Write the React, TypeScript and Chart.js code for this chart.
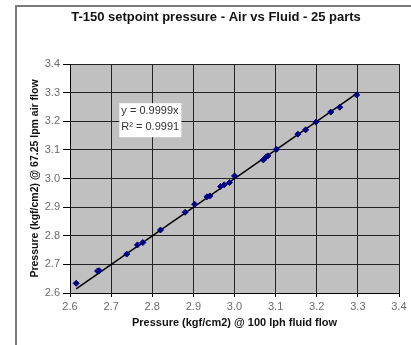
import React, { useEffect, useRef } from "react";
import { Chart, registerables } from "chart.js";

Chart.register(...registerables);

const TITLE = "T-150 setpoint pressure - Air vs Fluid - 25 parts";
const X_TITLE = "Pressure (kgf/cm2) @ 100 lph fluid flow";
const Y_TITLE = "Pressure (kgf/cm2) @ 67.25 lpm air flow";

const fluidPressure = [
  2.615, 2.667, 2.671, 2.738, 2.764, 2.777, 2.82, 2.88, 2.903, 2.933, 2.94, 2.966, 2.975,
  2.988, 3.0, 3.07, 3.076, 3.081, 3.102, 3.154, 3.173, 3.198, 3.234, 3.256, 3.297,
];
const airPressure = [
  2.634, 2.677, 2.678, 2.736, 2.768, 2.776, 2.82, 2.882, 2.91, 2.936, 2.939, 2.972, 2.978,
  2.986, 3.009, 3.065, 3.074, 3.079, 3.102, 3.155, 3.17, 3.197, 3.232, 3.249, 3.292,
];
const SLOPE = 0.9999;
const EQ_LINES = ["y = 0.9999x", "R² = 0.9991"];
const AXIS_MIN = 2.6;
const AXIS_MAX = 3.4;
const AXIS_STEP = 0.1;

const FONT = "'Liberation Sans', Arial, sans-serif";

export default function App() {
  const ref = useRef<HTMLCanvasElement | null>(null);

  useEffect(() => {
    if (!ref.current) return;
    const points = fluidPressure.map((x, i) => ({ x, y: airPressure[i] }));
    const xMin = Math.min(...fluidPressure);
    const xMax = Math.max(...fluidPressure);
    const trend = [
      { x: xMin, y: xMin * SLOPE },
      { x: xMax, y: xMax * SLOPE },
    ];

    const frame = {
      id: "frame",
      beforeDraw(chart: any) {
        const { ctx, chartArea: a, width, height } = chart;
        ctx.save();
        ctx.fillStyle = "#ffffff";
        ctx.fillRect(0, 0, width, height);
        ctx.fillStyle = "#c0c0c0";
        ctx.fillRect(a.left, a.top, a.right - a.left, a.bottom - a.top);
        ctx.strokeStyle = "#7a7a7a";
        ctx.lineWidth = 2;
        ctx.beginPath();
        ctx.moveTo(16, height);
        ctx.lineTo(16, 6);
        ctx.lineTo(width, 6);
        ctx.stroke();
        ctx.fillStyle = "#111111";
        ctx.font = `bold 13px ${FONT}`;
        ctx.textAlign = "center";
        ctx.textBaseline = "middle";
        ctx.fillText(TITLE, 216, 17);
        ctx.restore();
      },
      afterDraw(chart: any) {
        const { ctx, scales } = chart;
        const left = scales.x.getPixelForValue(2.72);
        const top = scales.y.getPixelForValue(3.263);
        ctx.save();
        ctx.font = `11px ${FONT}`;
        const w = 62;
        const h = 34;
        ctx.fillStyle = "#ffffff";
        ctx.fillRect(left, top, w, h);
        ctx.fillStyle = "#333333";
        ctx.textBaseline = "middle";
        ctx.textAlign = "left";
        ctx.fillText(EQ_LINES[0], left + 2, top + 8);
        ctx.fillText(EQ_LINES[1], left + 2, top + 24);
        ctx.restore();
      },
    };

    const chart = new Chart(ref.current, {
      type: "scatter",
      data: {
        datasets: [
          {
            label: "points",
            data: points,
            pointStyle: "rectRot",
            pointRadius: 3,
            backgroundColor: "#000080",
            borderColor: "#000080",
            borderWidth: 1,
            showLine: false,
            order: 1,
          },
          {
            label: "trend",
            data: trend,
            showLine: true,
            pointRadius: 0,
            borderColor: "#000000",
            borderWidth: 1.5,
            order: 2,
          },
        ],
      },
      options: {
        animation: false,
        responsive: false,
        layout: { padding: { left: 0, right: 12, top: 64, bottom: 0 } },
        plugins: {
          legend: { display: false },
          tooltip: { enabled: false },
          title: { display: false },
        },
        scales: {
          x: {
            type: "linear",
            min: AXIS_MIN,
            max: AXIS_MAX,
            afterFit(scale: any) {
              scale.height = 52;
            },
            ticks: {
              stepSize: AXIS_STEP,
              color: "#6a6a6a",
              padding: 3,
              font: { family: FONT, size: 11 },
              callback: (v: any) => Number(v).toFixed(1),
            },
            grid: { color: "#222222", tickLength: 4, tickColor: "#000000" },
            border: { color: "#000000" },
            title: {
              display: true,
              text: X_TITLE,
              color: "#111111",
              font: { family: FONT, size: 11, weight: "bold" },
              padding: { top: 0, bottom: 15.4 },
            },
          },
          y: {
            type: "linear",
            min: AXIS_MIN,
            max: AXIS_MAX,
            afterFit(scale: any) {
              scale.width = 70;
            },
            ticks: {
              stepSize: AXIS_STEP,
              color: "#6a6a6a",
              padding: 3,
              font: { family: FONT, size: 11 },
              callback: (v: any) => Number(v).toFixed(1),
            },
            grid: { color: "#222222", tickLength: 7, tickColor: "#000000" },
            border: { color: "#000000" },
            title: {
              display: true,
              text: Y_TITLE,
              color: "#111111",
              font: { family: FONT, size: 10.5, weight: "bold" },
              padding: { top: 28.5, bottom: 0 },
            },
          },
        },
      },
      plugins: [frame],
    });
    return () => chart.destroy();
  }, []);

  return (
    <div style={{ position: "absolute", left: 0, top: 0, width: 411, height: 345, background: "#fff" }}>
      <canvas ref={ref} width={411} height={345} style={{ width: 411, height: 345, display: "block" }} />
    </div>
  );
}
